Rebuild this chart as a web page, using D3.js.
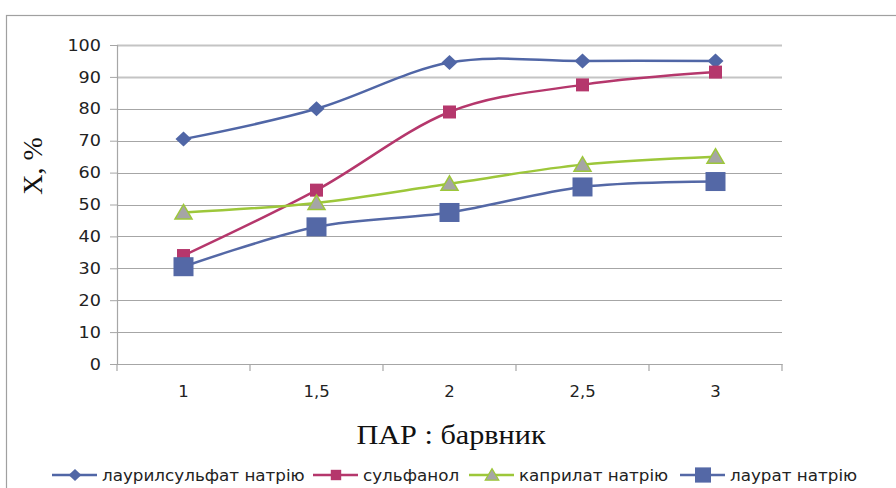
<!DOCTYPE html>
<html>
<head>
<meta charset="utf-8">
<script src="https://cdn.jsdelivr.net/npm/d3@7"></script>
<style>
  body { margin: 0; background: #fff; }
  svg { display: block; }
</style>
</head>
<body>
<svg id="chart" width="896" height="488"></svg>
<script>
const categories = ['1', '1,5', '2', '2,5', '3'];
const yTicks = [0, 10, 20, 30, 40, 50, 60, 70, 80, 90, 100];
const seriesNames = ['лаурилсульфат натрію', 'сульфанол', 'каприлат натрію', 'лаурат натрію'];
const laurylSulfate = [70.5, 80, 94.5, 95, 95];
const sulfanol = [34, 54.5, 79, 87.5, 91.5];
const caprylate = [47.5, 50.5, 56.5, 62.5, 65];
const laurate = [30.5, 43, 47.5, 55.5, 57.2];

const series = [
  { name: seriesNames[0], values: laurylSulfate, color: '#5066A6', marker: 'diamond' },
  { name: seriesNames[1], values: sulfanol, color: '#B5376C', marker: 'square' },
  { name: seriesNames[2], values: caprylate, color: '#9DC73A', marker: 'triangle' },
  { name: seriesNames[3], values: laurate, color: '#5468A6', marker: 'bigsquare' }
];

const svg = d3.select('#chart');
const plotLeft = 117, plotRight = 782, plotTop = 45, plotBottom = 364;
const labelFont = 'DejaVu Sans, sans-serif';

// the original text is a bit stretched sideways
function widen(sel, k) {
  sel.each(function() {
    const w = this.getComputedTextLength();
    d3.select(this).attr('textLength', w * k).attr('lengthAdjust', 'spacingAndGlyphs');
  });
}

// chart frame
svg.append('rect')
  .attr('x', 6.5).attr('y', 15.5)
  .attr('width', 1000).attr('height', 1000)
  .attr('fill', 'none').attr('stroke', '#A0A0A0').attr('stroke-width', 1.2);

const x = d3.scaleBand().domain(categories).range([plotLeft, plotRight]);
const y = d3.scaleLinear().domain([0, 100]).range([plotBottom, plotTop]);

// gridlines
svg.append('g')
  .selectAll('line')
  .data(yTicks)
  .enter()
  .append('line')
  .attr('x1', plotLeft).attr('x2', plotRight)
  .attr('y1', d => Math.round(y(d)) + 0.5)
  .attr('y2', d => Math.round(y(d)) + 0.5)
  .attr('stroke', d => d >= 90 ? '#C4C4C4' : '#A6A6A6')
  .attr('stroke-width', d => d >= 90 ? 2 : 1.2);

// y axis
const yAxis = svg.append('g')
  .attr('transform', 'translate(' + plotLeft + ',0)')
  .call(d3.axisLeft(y).tickValues(yTicks).tickSize(7).tickPadding(9));
yAxis.select('.domain').attr('stroke', '#A6A6A6').attr('stroke-width', 1.2);
yAxis.selectAll('.tick line').attr('stroke', '#A6A6A6');
yAxis.selectAll('text')
  .attr('font-family', labelFont)
  .attr('font-size', '16px')
  .attr('fill', '#222');
widen(yAxis.selectAll('text'), 1.1);

// x axis
const xAxis = svg.append('g')
  .attr('transform', 'translate(0,' + plotBottom + ')')
  .call(d3.axisBottom(x).tickSize(0).tickPadding(22));
xAxis.select('.domain').attr('stroke', '#A6A6A6').attr('stroke-width', 1.2);
xAxis.selectAll('text')
  .attr('font-family', labelFont)
  .attr('font-size', '15px')
  .attr('fill', '#222');
widen(xAxis.selectAll('text'), 1.1);
svg.append('g')
  .selectAll('line')
  .data(x.domain().concat(['end']))
  .enter()
  .append('line')
  .attr('x1', d => d === 'end' ? plotRight : x(d))
  .attr('x2', d => d === 'end' ? plotRight : x(d))
  .attr('y1', plotBottom).attr('y2', plotBottom + 7)
  .attr('stroke', '#A6A6A6').attr('stroke-width', 1.2);

// axis titles
svg.append('text')
  .attr('transform', 'translate(42,166) rotate(-90)')
  .attr('text-anchor', 'middle')
  .attr('font-family', 'Liberation Serif, serif')
  .attr('font-size', '28px')
  .attr('fill', '#111')
  .text('X, %');
svg.append('text')
  .attr('transform', 'translate(451,444) scale(1.08,1)')
  .attr('text-anchor', 'middle')
  .attr('font-family', 'Liberation Serif, serif')
  .attr('font-size', '28px')
  .attr('fill', '#111')
  .text('ПАР : барвник');

const cx = d => x(d) + x.bandwidth() / 2;
const line = d3.line()
  .x((d, i) => cx(categories[i]))
  .y(d => y(d))
  .curve(d3.curveCatmullRom.alpha(0));

function drawMarker(g, type, color) {
  if (type === 'diamond') {
    g.append('path').attr('d', 'M0,-7.5L8,0L0,7.5L-8,0Z').attr('fill', color);
  } else if (type === 'square') {
    g.append('rect').attr('x', -6.5).attr('y', -6.5).attr('width', 13).attr('height', 13).attr('fill', color);
  } else if (type === 'triangle') {
    g.append('path').attr('d', 'M0,-8L8.5,6.5L-8.5,6.5Z')
      .attr('fill', '#A5A5A5').attr('stroke', color).attr('stroke-width', 1.5);
  } else {
    g.append('rect').attr('x', -10).attr('y', -9.5).attr('width', 20).attr('height', 19).attr('fill', color);
  }
}

series.forEach(function(s) {
  svg.append('path')
    .datum(s.values)
    .attr('d', line)
    .attr('fill', 'none')
    .attr('stroke', s.color)
    .attr('stroke-width', 2.5);
  s.values.forEach(function(v, i) {
    const g = svg.append('g')
      .attr('transform', 'translate(' + cx(categories[i]) + ',' + y(v) + ')');
    drawMarker(g, s.marker, s.color);
  });
});

// legend
const legendX = [52, 313, 469, 680];
series.forEach(function(s, i) {
  const g = svg.append('g').attr('transform', 'translate(' + legendX[i] + ',475)');
  g.append('line').attr('x1', 0).attr('x2', 45).attr('y1', 0).attr('y2', 0)
    .attr('stroke', s.color).attr('stroke-width', 2.5);
  const m = g.append('g').attr('transform', 'translate(23,0) scale(0.8)');
  drawMarker(m, s.marker, s.color);
  const t = g.append('text')
    .attr('x', 50).attr('y', 5.5)
    .attr('font-family', labelFont)
    .attr('font-size', '15.5px')
    .attr('fill', '#222')
    .text(s.name);
  widen(t, 1.08);
});
</script>
</body>
</html>
